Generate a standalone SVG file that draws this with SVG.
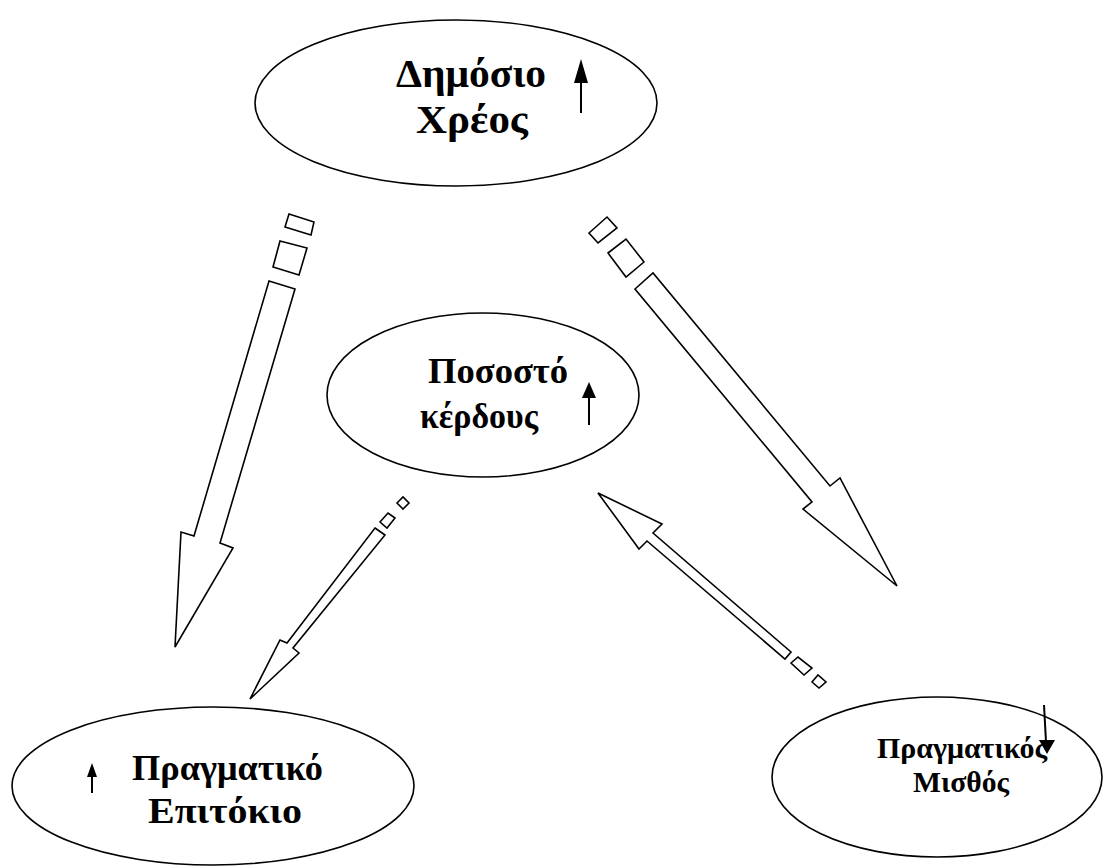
<svg xmlns="http://www.w3.org/2000/svg" width="1105" height="867" viewBox="0 0 1105 867">
<style>
.node{fill:#fff;stroke:#000;stroke-width:1.6}
.lbl{font-family:"Liberation Serif","Times New Roman",serif;font-weight:bold;fill:#000}
.blk{fill:#fff;stroke:#000;stroke-width:1.6;stroke-linejoin:miter}
.ind{stroke:#000;stroke-width:2;fill:none}
.head{fill:#000;stroke:none}
</style>
<rect width="1105" height="867" fill="#fff"/>
<g id="connectors">
  <g id="arrow-debt-to-rate">
    <polygon class="blk" points="289,214 314,222 311,235 285,227"/>
    <polygon class="blk" points="280,241 307,248 299,275 273,267"/>
    <polygon class="blk" points="269,281 295,289 220,543 233,548 175,647 181,532 194,536"/>
  </g>
  <g id="arrow-debt-to-wage">
    <polygon class="blk" points="589,233 607,217 617,228 598,243"/>
    <polygon class="blk" points="608,253 626,239 644,262 626,277"/>
    <polygon class="blk" points="635,289 653,273 830,486 840,478 897,586 803,509 812,502"/>
  </g>
  <g id="arrow-profit-to-rate">
    <polygon class="blk" points="397,503 403,497 409,503 403,509"/>
    <polygon class="blk" points="380,522 388,513 395,518 387,528"/>
    <polygon class="blk" points="375,528 385,535 293,648 299,653 250,699 280,640 287,643"/>
  </g>
  <g id="arrow-wage-to-profit">
    <polygon class="blk" points="791,663 798,657 812,668 804,675"/>
    <polygon class="blk" points="812,682 818,675 826,682 819,688"/>
    <polygon class="blk" points="598,493 662,524 653,533 791,652 785,659 647,541 639,549"/>
  </g>
</g>
<g id="node-debt">
  <ellipse class="node" cx="456" cy="103" rx="201" ry="83"/>
  <text class="lbl" font-size="39" x="396" y="87" textLength="150" lengthAdjust="spacingAndGlyphs">Δημόσιο</text>
  <text class="lbl" font-size="39" x="416" y="133" textLength="112" lengthAdjust="spacingAndGlyphs">Χρέος</text>
  <line class="ind" x1="581" y1="113" x2="581" y2="78"/>
  <polygon class="head" points="574,83 581,59 588,83"/>
</g>
<g id="node-profit">
  <ellipse class="node" cx="483" cy="395" rx="156" ry="82"/>
  <text class="lbl" font-size="36" x="428" y="383" textLength="140" lengthAdjust="spacingAndGlyphs">Ποσοστό</text>
  <text class="lbl" font-size="36" x="420" y="428" textLength="118" lengthAdjust="spacingAndGlyphs">κέρδους</text>
  <line class="ind" x1="589" y1="425" x2="589" y2="395"/>
  <polygon class="head" points="582,398 589,382 596,398"/>
</g>
<g id="node-rate">
  <ellipse class="node" cx="213" cy="786" rx="201" ry="79"/>
  <text class="lbl" font-size="36" x="132" y="780" textLength="191" lengthAdjust="spacingAndGlyphs">Πραγματικό</text>
  <text class="lbl" font-size="36" x="148" y="823" textLength="154" lengthAdjust="spacingAndGlyphs">Επιτόκιο</text>
  <line class="ind" x1="92" y1="793" x2="92" y2="774"/>
  <polygon class="head" points="87,777 92,763 97,777"/>
</g>
<g id="node-wage">
  <ellipse class="node" cx="937" cy="777" rx="165" ry="80"/>
  <text class="lbl" font-size="29" x="877" y="758" textLength="170" lengthAdjust="spacingAndGlyphs">Πραγματικός</text>
  <text class="lbl" font-size="29" x="913" y="792" textLength="96" lengthAdjust="spacingAndGlyphs">Μισθός</text>
  <line class="ind" x1="1044" y1="705" x2="1046" y2="742"/>
  <polygon class="head" points="1039,740 1055,740 1047,754"/>
</g>
</svg>
